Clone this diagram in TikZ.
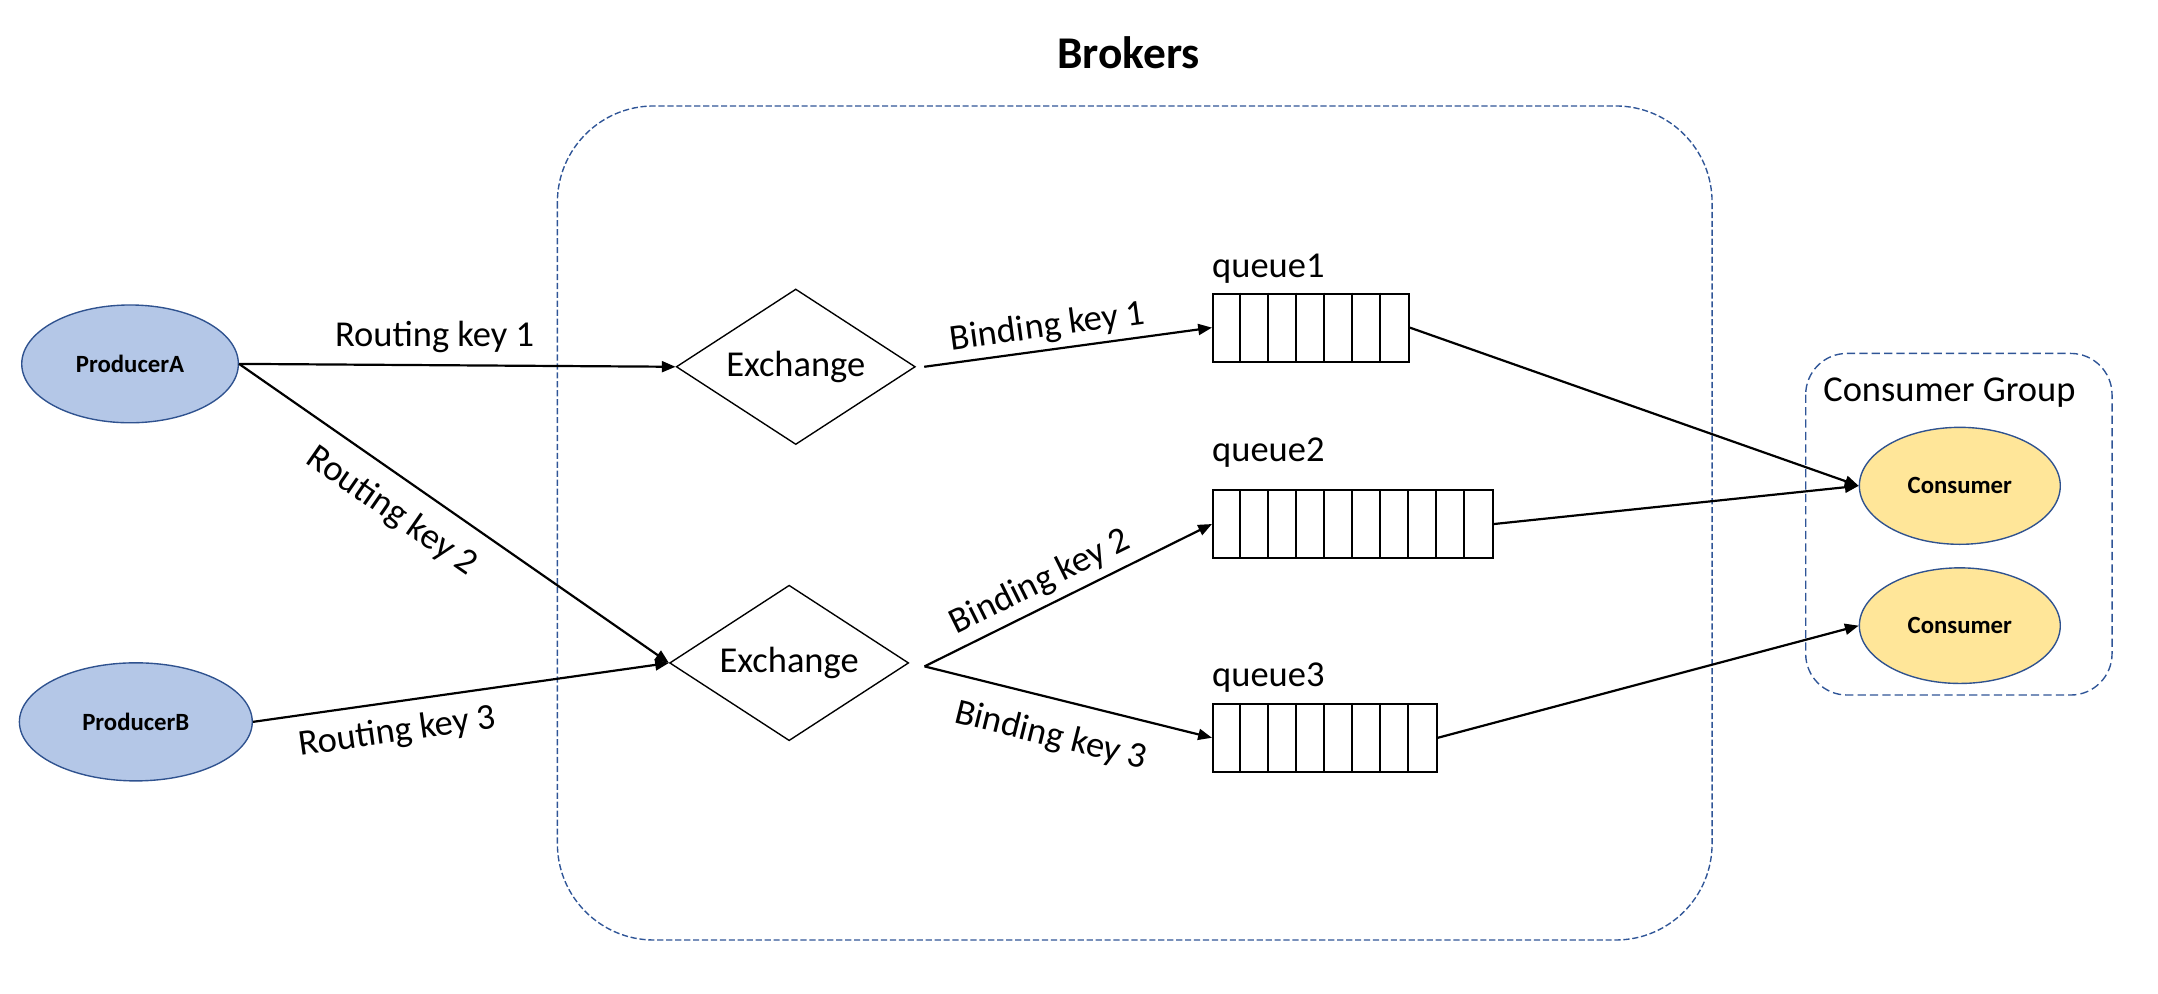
\documentclass[tikz,border=0pt]{standalone}
\usepackage{fontspec}
\setmainfont{Carlito}
\usetikzlibrary{shapes.geometric,arrows.meta}
\definecolor{dashblue}{HTML}{2F5597}
\definecolor{edgeblue}{HTML}{2F528F}
\definecolor{prodfill}{HTML}{B4C7E7}
\definecolor{consfill}{HTML}{FFE699}
\begin{document}
\begin{tikzpicture}[x=1pt,y=-1pt,
  lbl/.style={font=\fontsize{26.5}{30}\selectfont, inner xsep=0pt},
  prod/.style={ellipse, draw=edgeblue, line width=1pt, fill=prodfill, inner sep=0pt, font=\fontsize{18}{20}\selectfont\bfseries},
  cons/.style={prod, fill=consfill},
  exch/.style={diamond, draw=black, line width=1pt, inner sep=0pt, minimum width=173.7pt, minimum height=113pt, aspect=1.54, font=\fontsize{26.5}{30}\selectfont},
  queuebox/.style={draw=black, line width=1.3pt, inner sep=0pt, minimum height=49.4pt, anchor=north west},
  qline/.style={draw=black, line width=1.3pt},
  conn/.style={draw=black, line width=1.6pt, -{Triangle[length=10pt,width=8pt]}},
  brokerframe/.style={draw=dashblue, line width=1pt, dash pattern=on 4.5pt off 2pt, rounded corners=70pt},
  groupframe/.style={draw=dashblue, line width=1pt, dash pattern=on 6pt off 3pt, rounded corners=30pt},
]
\useasboundingbox (0,0) rectangle (1568,722);

% frames
\draw[brokerframe] (405,77) rectangle (1244,683);
\draw[groupframe] (1312,256.8) rectangle (1534.6,505);

% titles
\node[font=\fontsize{33}{36}\selectfont\bfseries, anchor=base, inner sep=0pt] (brokers) at (820,50) {Brokers};
\node[lbl, anchor=base west, inner sep=0pt] (cg) at (1324.6,291.9) {Consumer Group};

% producers
\node[prod, minimum width=157.4pt, minimum height=85.6pt] (pA) at (94.5,264.4) {ProducerA};
\node[prod, minimum width=169.2pt, minimum height=85.8pt] (pB) at (98.7,524.5) {ProducerB};

% exchanges
\node[exch] (ex1) at (578.2,266.5) {Exchange};
\node[exch] (ex2) at (573.4,481.7) {Exchange};

% queues
\node[queuebox, minimum width=142.5pt] (q1) at (880.6,212.7) {};
\foreach \i in {1,...,6} \draw[qline] ([xshift=\i*20.36pt]q1.north west) -- ([xshift=\i*20.36pt]q1.south west);
\node[queuebox, minimum width=203.6pt] (q2) at (880.6,355.4) {};
\foreach \i in {1,...,9} \draw[qline] ([xshift=\i*20.36pt]q2.north west) -- ([xshift=\i*20.36pt]q2.south west);
\node[queuebox, minimum width=162.9pt] (q3) at (880.6,510.7) {};
\foreach \i in {1,...,7} \draw[qline] ([xshift=\i*20.36pt]q3.north west) -- ([xshift=\i*20.36pt]q3.south west);

\node[lbl, anchor=base west, inner sep=0pt] (q1l) at (880.6,201.6) {queue1};
\node[lbl, anchor=base west, inner sep=0pt] (q2l) at (880.6,335.5) {queue2};
\node[lbl, anchor=base west, inner sep=0pt] (q3l) at (880.6,499) {queue3};

% consumers
\node[cons, minimum width=146pt, minimum height=85pt] (c1) at (1424,353) {Consumer};
\node[cons, minimum width=146pt, minimum height=84pt] (c2) at (1424,454.6) {Consumer};

% connectors
\coordinate (ex1o) at ([xshift=6pt]ex1.east);
\coordinate (ex2o) at ([xshift=11pt,yshift=-2.5pt]ex2.east);

\draw[conn] (pA.east) -- node[lbl, above, inner ysep=8.5pt, pos=0.448] {Routing key 1} (ex1.west);
\draw[conn] (pA.east) -- node[lbl, sloped, below, inner ysep=12.5pt, pos=0.40] {Routing key 2} (ex2.west);
\draw[conn] (pB.east) -- node[lbl, sloped, below, inner ysep=10pt, pos=0.337] {Routing key 3} (ex2.west);
\draw[conn] (ex1o) -- node[lbl, sloped, above, inner ysep=4pt, pos=0.44] {Binding key 1} (q1.west);
\draw[conn] (ex2o) -- node[lbl, sloped, above, inner ysep=5pt, pos=0.44] {Binding key 2} (q2.west);
\draw[conn] (ex2o) -- node[lbl, sloped, below, inner ysep=15pt, pos=0.47] {Binding key 3} (q3.west);
\draw[conn] (q1.east) -- (c1.west);
\draw[conn] (q2.east) -- (c1.west);
\draw[conn] (q3.east) -- (c2.west);
\end{tikzpicture}
\end{document}
